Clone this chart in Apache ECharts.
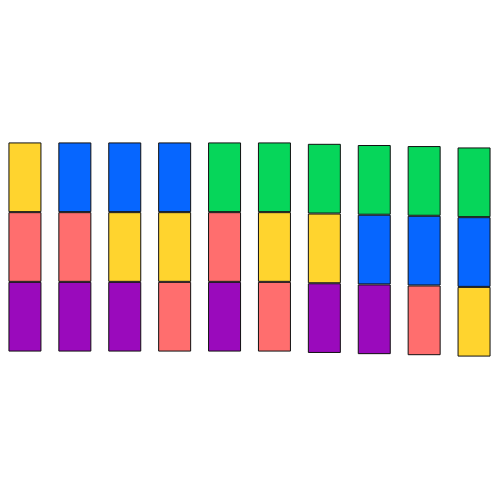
<!DOCTYPE html>
<html><head><meta charset="utf-8">
<script src="https://cdn.jsdelivr.net/npm/echarts@6/dist/echarts.min.js"></script>
<style>html,body{margin:0;padding:0;background:#fff}#c{width:499px;height:500px}</style>
</head><body><div id="c"></div>
<script>
const categories = ['1','2','3','4','5','6','7','8','9','10'];
const groupNames = ['purple','red','yellow','blue','green'];
const groupColors = ['#9A0ABC','#FF6E6E','#FFD42E','#0666FF','#06D65A'];
// which group sits at each stack position (bottom, middle, top) per bar
const bottomGroup = [0,0,0,1,0,1,0,0,1,2];
const middleGroup = [1,1,2,2,1,2,2,3,3,3];
const topGroup    = [2,3,3,3,4,4,4,4,4,4];
const bottomValues = [1,1,1,1,1,1,1,1,1,1];
const middleValues = [1,1,1,1,1,1,1,1,1,1];
const topValues    = [1,1,1,1,1,1,1,1,1,1];
const baseOffsets  = [0,0,0,0,0,0,-0.02,-0.037,-0.052,-0.072];

const chart = echarts.init(document.getElementById('c'));
function seg(name, vals, groups){
  return {
    name, type:'bar', stack:'s', stackStrategy:'all', barWidth:33,
    data: vals.map((v,i)=>({value:v, itemStyle:{color:groupColors[groups[i]]}})),
    itemStyle:{borderColor:'#111', borderWidth:1},
    emphasis:{disabled:true}, animation:false
  };
}
chart.setOption({
  animation:false,
  grid:{left:0,right:0,top:3,bottom:9},
  xAxis:{type:'category',data:categories,show:false},
  yAxis:{type:'value',min:-2,max:5,show:false},
  series:[
    {name:'base',type:'bar',stack:'s',stackStrategy:'all',barWidth:33,data:baseOffsets,
     itemStyle:{color:'rgba(0,0,0,0)'},silent:true},
    seg('bottom',bottomValues,bottomGroup),
    seg('middle',middleValues,middleGroup),
    seg('top',topValues,topGroup)
  ]
});
</script></body></html>
